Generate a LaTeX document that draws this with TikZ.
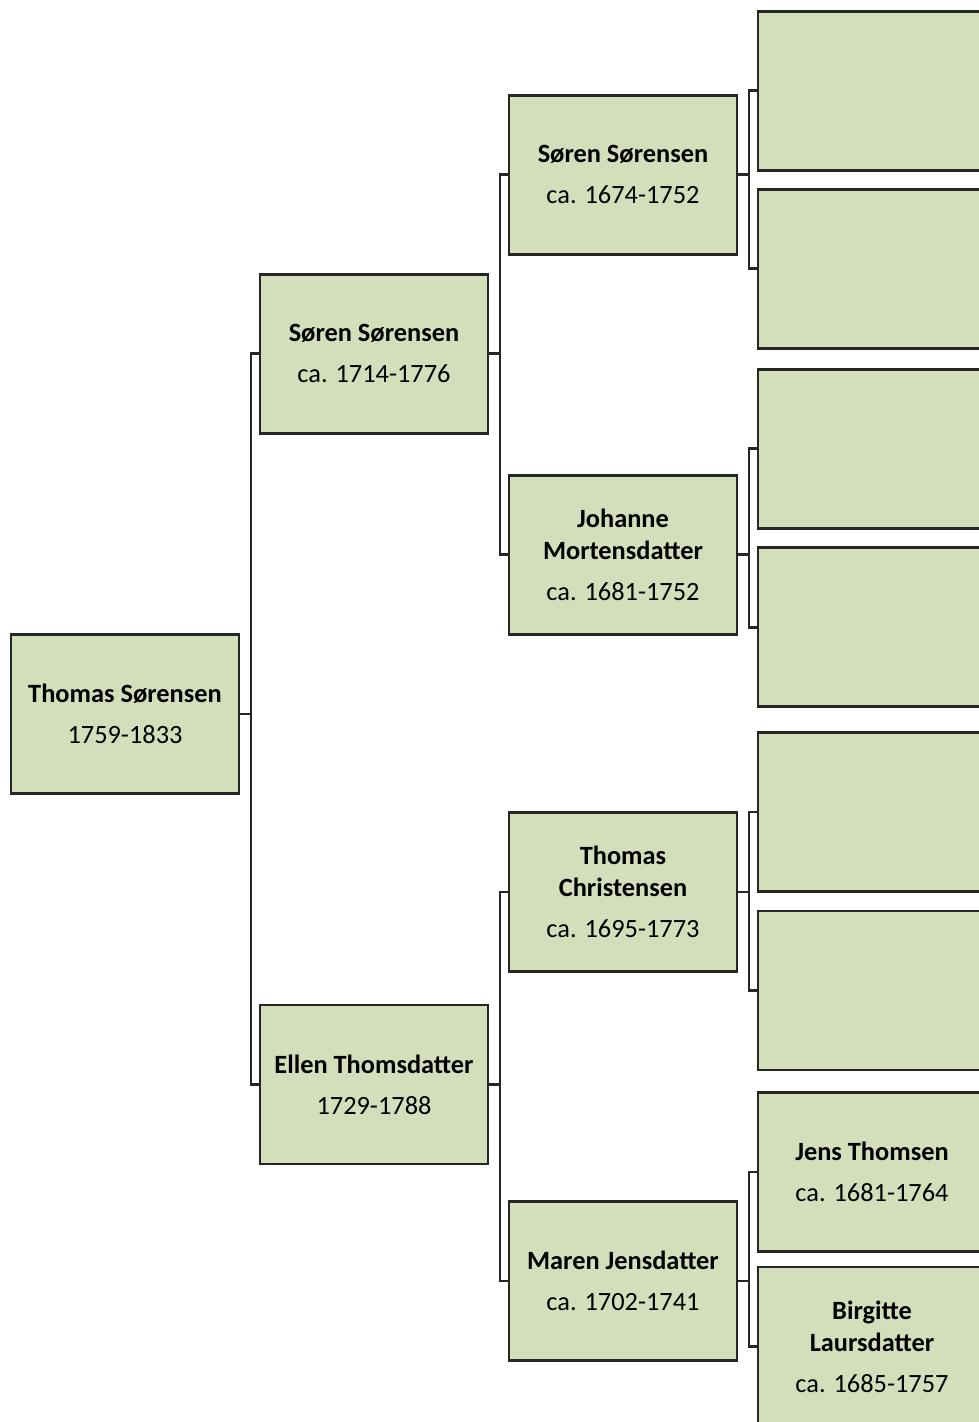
\documentclass[tikz,border=0pt]{standalone}
\usepackage{fontspec}
\setmainfont{Carlito}
\usepackage{tikz}

\definecolor{boxgreen}{HTML}{D3DFBA}
\definecolor{lineblack}{HTML}{262626}

\begin{document}
\begin{tikzpicture}[grow'=right, level distance=4.98cm,
  level 1/.style={sibling distance=14.41cm},
  level 2/.style={sibling distance=7.16cm},
  level 3/.style={sibling distance=3.55cm},
  every node/.append style={draw=lineblack, line width=1.6pt, fill=boxgreen,
    minimum width=4.56cm, minimum height=3.18cm, align=center, inner sep=2pt,
    font=\fontsize{15pt}{18.2pt}\selectfont, text=black},
  edge from parent/.style={draw=lineblack, line width=1.6pt},
  edge from parent path={(\tikzparentnode.east) -- ++(0.21,0) |- (\tikzchildnode.west)}]
\useasboundingbox (0,0) rectangle (19.58,-28.44);
\clip (0,0) rectangle (19.58,-28.44);
% shifts are relative to the parent box
\path (2.5,-14.4) node[yshift=0.12cm] (thomas) {\textbf{Thomas Sørensen}\\[5pt]1759-1833} % root
  child { node (soren) {\textbf{Søren Sørensen}\\[5pt]ca. 1714-1776}
    child { node (soren2) {\textbf{Søren Sørensen}\\[5pt]ca. 1674-1752}
      child { node[yshift=-0.095cm] (anc1) {} }
      child { node[yshift=-0.105cm] (anc2) {} }
    }
    child { node[yshift=-0.44cm] (johanne) {\textbf{Johanne}\\\textbf{Mortensdatter}\\[5pt]ca. 1681-1752}
      child { node[yshift=0.345cm] (anc3) {} }
      child { node[yshift=0.325cm] (anc4) {} }
    }
  }
  child { node[yshift=-0.205cm] (ellen) {\textbf{Ellen Thomsdatter}\\[5pt]1729-1788}
    child { node[yshift=0.27cm] (thomasc) {\textbf{Thomas}\\\textbf{Christensen}\\[5pt]ca. 1695-1773}
      child { node[yshift=-0.175cm] (anc5) {} }
      child { node[yshift=-0.195cm] (anc6) {} }
    }
    child { node[yshift=-0.35cm] (maren) {\textbf{Maren Jensdatter}\\[5pt]ca. 1702-1741}
      child { node[yshift=0.405cm] (jens) {\textbf{Jens Thomsen}\\[5pt]ca. 1681-1764} }
      child { node[yshift=0.465cm] (birgitte) {\textbf{Birgitte}\\\textbf{Laursdatter}\\[5pt]ca. 1685-1757} }
    }
  };
\end{tikzpicture}
\end{document}
